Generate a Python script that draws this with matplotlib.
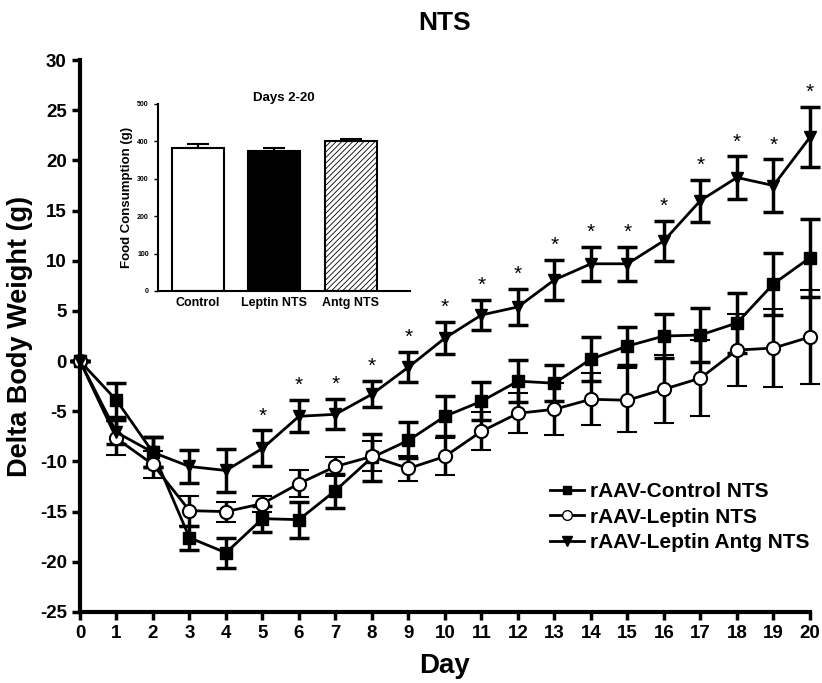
import numpy as np
from matplotlib import pyplot as plt
from matplotlib.lines import Line2D

plt.rcParams['font.family'] = ['Liberation Sans', 'DejaVu Sans']
plt.rcParams['font.weight'] = 'bold'
plt.rcParams['hatch.linewidth'] = 0.6
plt.rcParams['axes.unicode_minus'] = False

days = np.arange(0, 21)

ctrl = [0, -3.9, -9.1, -17.6, -19.1, -15.7, -15.8, -12.9, -9.6, -7.9, -5.5,
        -4.0, -2.0, -2.2, 0.2, 1.5, 2.5, 2.6, 3.8, 7.7, 10.3]
ctrl_err = [0, 1.7, 1.5, 1.2, 1.5, 1.3, 1.8, 1.7, 2.3, 1.8, 2.0,
            1.9, 2.1, 1.8, 2.2, 1.9, 2.2, 2.7, 3.0, 3.1, 3.9]

lep = [0, -7.7, -10.3, -14.9, -15.0, -14.2, -12.2, -10.5, -9.5, -10.7, -9.5,
       -7.0, -5.2, -4.8, -3.8, -3.9, -2.8, -1.7, 1.1, 1.3, 2.4]
lep_err = [0, 1.7, 1.3, 1.5, 1.0, 0.8, 1.3, 0.9, 1.5, 1.2, 1.8,
           1.9, 2.0, 2.6, 2.6, 3.2, 3.4, 3.8, 3.6, 3.9, 4.7]

antg = [0, -7.1, -9.1, -10.5, -10.9, -8.7, -5.5, -5.3, -3.3, -0.6, 2.3,
        4.6, 5.4, 8.1, 9.7, 9.7, 12.0, 16.0, 18.3, 17.5, 22.3]
antg_err = [0, 1.2, 1.5, 1.6, 2.1, 1.8, 1.6, 1.5, 1.3, 1.5, 1.6,
            1.5, 1.8, 2.0, 1.7, 1.7, 2.0, 2.1, 2.1, 2.6, 3.0]

sig_days = list(range(5, 21))

inset_groups = ['Control', 'Leptin NTS', 'Antg NTS']
inset_vals = [383, 373, 401]
inset_err = [9, 9, 5]

fig = plt.figure(figsize=(8.22, 6.83), dpi=100)
ax = fig.add_axes([0.0973, 0.104, 0.888, 0.808])

common = dict(color='black', linewidth=2, elinewidth=2.5, capsize=7,
              capthick=2.5, clip_on=False)
ax.errorbar(days, ctrl, yerr=ctrl_err, marker='s', markersize=8,
            markerfacecolor='black', **common)
ax.errorbar(days, lep, yerr=lep_err, marker='o', markersize=9.5,
            markerfacecolor='white', markeredgewidth=1.5, **common)
ax.errorbar(days, antg, yerr=antg_err, marker='v', markersize=9,
            markerfacecolor='black', **common)

for d in sig_days:
    ax.text(d, antg[d] + antg_err[d] + 0.5, '*', ha='center', va='bottom',
            fontsize=15, fontweight='normal')

ax.set_xlim(0, 20)
ax.set_ylim(-25, 30)
ax.set_xticks(days)
ax.set_yticks(np.arange(-25, 31, 5))
for s in ['top', 'right']:
    ax.spines[s].set_visible(False)
for s in ['left', 'bottom']:
    ax.spines[s].set_linewidth(3)
ax.tick_params(width=2.5, length=6, labelsize=13.5)
for lab in ax.get_xticklabels() + ax.get_yticklabels():
    lab.set_fontweight('bold')
ax.set_xlabel('Day', fontsize=20, fontweight='bold', labelpad=8)
ax.set_ylabel('Delta Body Weight (g)', fontsize=19.5, fontweight='bold', labelpad=5)
ax.set_title('NTS', fontsize=19, fontweight='bold', pad=22)

handles = [
    Line2D([], [], color='black', lw=2, marker='s', markersize=6),
    Line2D([], [], color='black', lw=2, marker='o', markersize=7,
           markerfacecolor='white'),
    Line2D([], [], color='black', lw=2, marker='v', markersize=7),
]
ax.legend(handles, ['rAAV-Control NTS', 'rAAV-Leptin NTS', 'rAAV-Leptin Antg NTS'],
          loc='lower right', bbox_to_anchor=(1.025, 0.075), frameon=False,
          prop={'size': 15, 'weight': 'bold'}, handlelength=1.6,
          handletextpad=0.3, labelspacing=0.3)

ins = fig.add_axes([0.192, 0.574, 0.307, 0.274])
x = np.arange(len(inset_groups))
ins.bar(x, inset_vals, width=0.68, color=['white', 'black', 'white'],
        edgecolor='black', linewidth=1.5, hatch=[None, None, '//////'])
ins.errorbar(x, inset_vals, yerr=[[0, 0, 0], inset_err], fmt='none',
             ecolor='black', elinewidth=1.5, capsize=8, capthick=1.5)
ins.set_xlim(-0.52, 2.78)
ins.set_ylim(0, 500)
ins.set_yticks(np.arange(0, 501, 100))
ins.set_xticks(x)
ins.set_xticklabels(inset_groups, fontsize=9, fontweight='bold')
for s in ['top', 'right']:
    ins.spines[s].set_visible(False)
for s in ['left', 'bottom']:
    ins.spines[s].set_linewidth(1.5)
ins.tick_params(axis='y', labelsize=5, width=1, length=3)
ins.tick_params(axis='x', length=0, pad=4)
for lab in ins.get_yticklabels():
    lab.set_fontweight('bold')
ins.set_ylabel('Food Consumption (g)', fontsize=9.5, fontweight='bold', labelpad=3)
ins.set_title('Days 2-20', fontsize=9.5, fontweight='bold', pad=2)

fig.savefig('out.png', dpi=100)
